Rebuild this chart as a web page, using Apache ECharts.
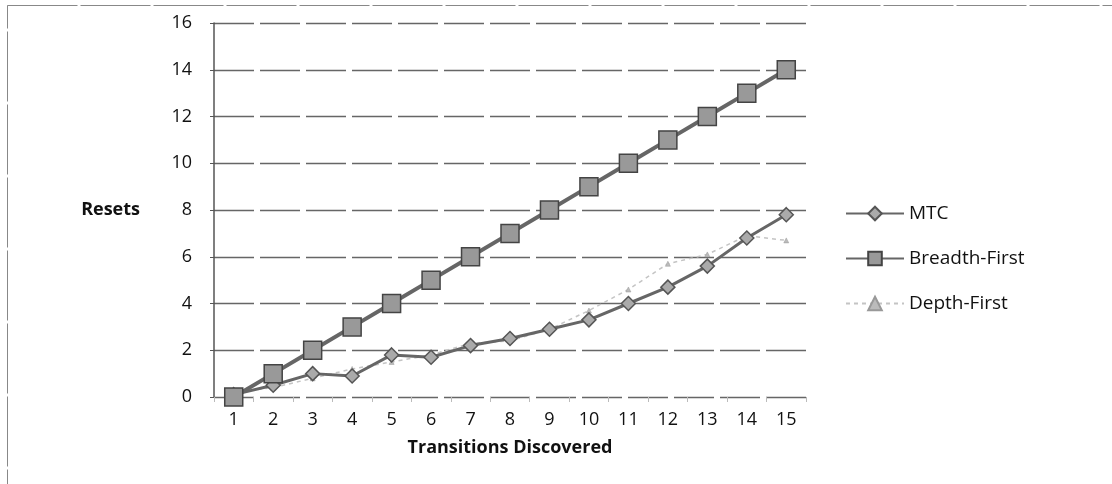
<!DOCTYPE html>
<html>
<head>
<meta charset="utf-8">
<script src="https://cdn.jsdelivr.net/npm/echarts@6/dist/echarts.min.js"></script>
<style>
html,body{margin:0;padding:0;background:#fff;}
#chart{width:1112px;height:484px;}
</style>
</head>
<body>
<div id="chart"></div>
<script>
const categories = ['1','2','3','4','5','6','7','8','9','10','11','12','13','14','15'];
const mtc = [0.1, 0.5, 1.0, 0.9, 1.8, 1.7, 2.2, 2.5, 2.9, 3.3, 4.0, 4.7, 5.6, 6.8, 7.8];
const breadthFirst = [0, 1, 2, 3, 4, 5, 6, 7, 8, 9, 10, 11, 12, 13, 14];
const depthFirst = [0.2, 0.4, 0.8, 1.2, 1.5, 1.8, 2.3, 2.4, 2.9, 3.7, 4.6, 5.7, 6.1, 6.9, 6.7];
const yTicks = [0, 2, 4, 6, 8, 10, 12, 14, 16];

const FONT = '"Open Sans", "Noto Sans", sans-serif';
const chart = echarts.init(document.getElementById('chart'), null, {renderer: 'canvas'});
chart.setOption({
  animation: false,
  backgroundColor: '#fff',
  textStyle: {fontFamily: FONT, color: '#111'},
  graphic: [{
    type: 'rect', silent: true, z: -1,
    shape: {x: 7.5, y: 5.5, width: 1200, height: 600},
    style: {fill: 'none', stroke: '#888', lineWidth: 1, lineDash: [70, 3]}
  }],
  grid: {left: 214, right: 306, top: 23, bottom: 87, containLabel: false},
  legend: {
    orient: 'vertical',
    left: 840,
    top: 199,
    itemGap: 26,
    itemWidth: 58,
    itemHeight: 17,
    textStyle: {fontFamily: FONT, fontSize: 19, color: '#111'},
    data: ['MTC', 'Breadth-First', 'Depth-First']
  },
  xAxis: {
    type: 'category',
    data: categories,
    boundaryGap: true,
    name: 'Transitions Discovered',
    nameLocation: 'middle',
    nameGap: 42,
    nameTextStyle: {fontFamily: FONT, fontSize: 18, fontWeight: 'bold', color: '#111'},
    axisLine: {show: false},
    axisTick: {show: true, length: 5, lineStyle: {color: '#bbb'}},
    axisLabel: {fontFamily: FONT, fontSize: 18, color: '#111', margin: 14}
  },
  yAxis: {
    type: 'value',
    min: yTicks[0],
    max: yTicks[yTicks.length - 1],
    interval: 2,
    name: 'Resets',
    nameLocation: 'middle',
    nameRotate: 0,
    nameGap: 74,
    nameTextStyle: {fontFamily: FONT, fontSize: 18, fontWeight: 'bold', color: '#111'},
    axisLine: {show: true, lineStyle: {color: '#555', width: 1.5}},
    axisTick: {show: true, length: 4, lineStyle: {color: '#555'}},
    axisLabel: {fontFamily: FONT, fontSize: 18, color: '#111', margin: 22},
    splitLine: {show: true, lineStyle: {color: '#666', width: 1.3, type: [40, 6]}}
  },
  series: [
    {
      name: 'MTC', type: 'line', data: mtc,
      symbol: 'diamond', symbolSize: 14,
      lineStyle: {color: '#666', width: 3},
      itemStyle: {color: '#aaa', borderColor: '#555', borderWidth: 1.5},
      z: 3
    },
    {
      name: 'Breadth-First', type: 'line', data: breadthFirst,
      symbol: 'rect', symbolSize: 18,
      lineStyle: {color: '#666', width: 4},
      itemStyle: {color: '#999', borderColor: '#444', borderWidth: 1.5},
      z: 4
    },
    {
      name: 'Depth-First', type: 'line', data: depthFirst,
      symbol: 'triangle', symbolSize: 5,
      lineStyle: {color: '#c4c4c4', width: 1.5, type: [4, 4]},
      itemStyle: {color: '#bbb', borderColor: '#999', borderWidth: 0.5},
      z: 2
    }
  ]
});
</script>
</body>
</html>
